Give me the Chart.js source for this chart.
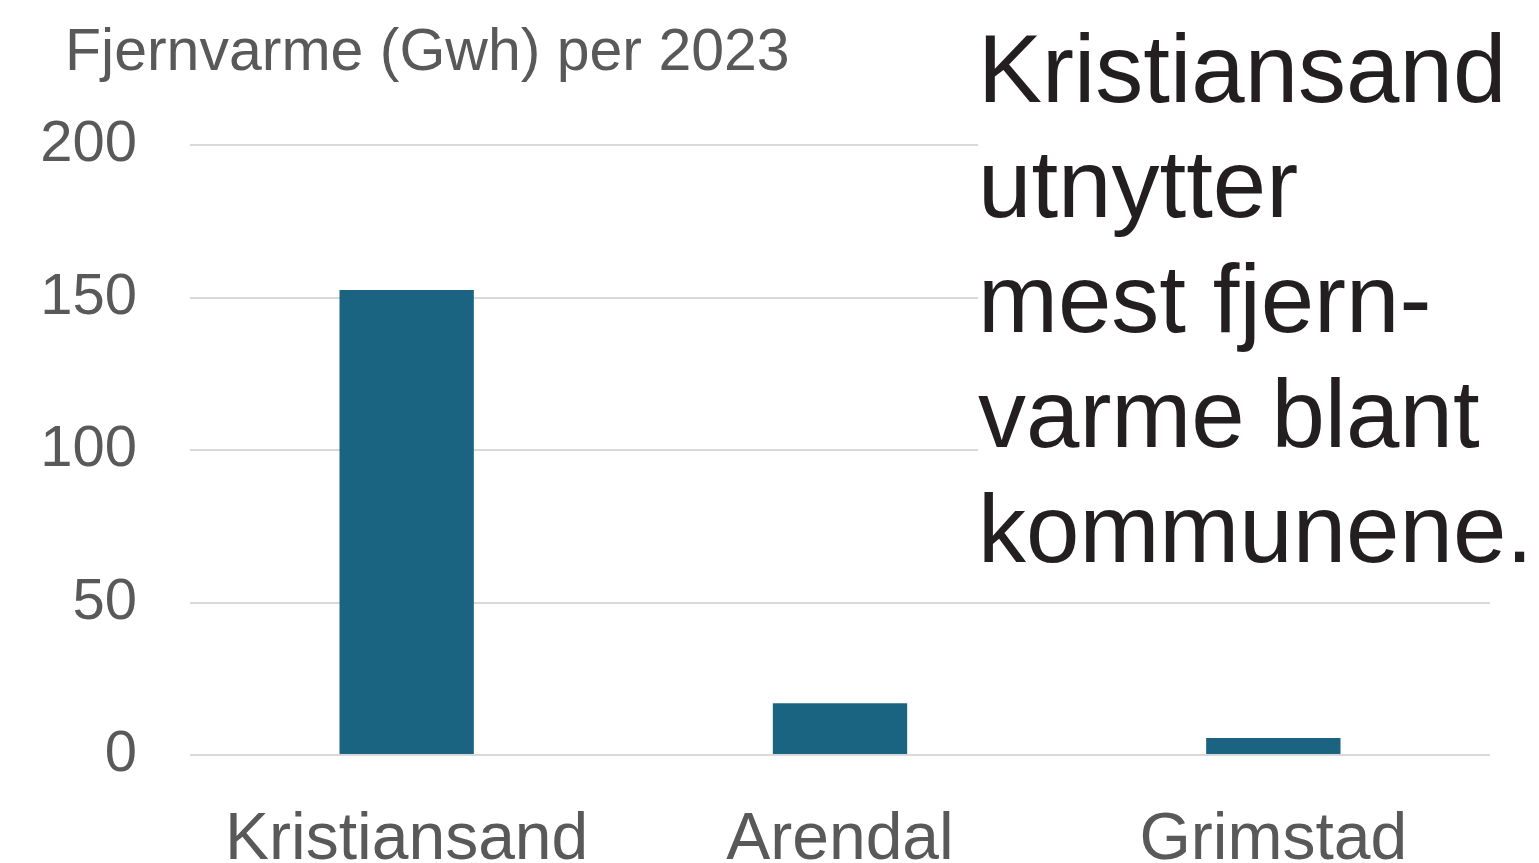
<!DOCTYPE html>
<html>
<head>
<meta charset="utf-8">
<script src="https://cdn.jsdelivr.net/npm/chart.js@4"></script>
<style>
    html, body { margin: 0; padding: 0; background: #fff; }
    #wrap { position: relative; width: 1539px; height: 863px; overflow: hidden; }
    #title {
        position: absolute; left: 65px; top: 16px;
        font-family: "Liberation Sans", Arial, sans-serif;
        font-size: 59px; color: #595959; white-space: nowrap;
    }
    #note {
        position: absolute; left: 978px; top: 0; width: 561px; height: 590px;
        background: #fff; padding-top: 11px; box-sizing: border-box;
        font-family: "Liberation Sans", Arial, sans-serif;
        font-size: 96px; line-height: 115px; color: #231f20; white-space: nowrap;
    }
</style>
</head>
<body>
<div id="wrap">
    <canvas id="heatChart" width="1539" height="863"></canvas>
    <div id="title">Fjernvarme (Gwh) per 2023</div>
    <div id="note">Kristiansand<br>utnytter<br>mest fjern-<br>varme blant<br>kommunene.</div>
</div>
<script>
// Data
const municipalities = ['Kristiansand', 'Arendal', 'Grimstad'];
const districtHeatGwh = [152.5, 17, 5.6];
const yTicks = [0, 50, 100, 150, 200];

const barColor = '#1a6381';
const gridColor = '#d9d9d9';
const tickColor = '#595959';

Chart.defaults.font.family = '"Liberation Sans", Arial, sans-serif';

const ctx = document.getElementById('heatChart');

new Chart(ctx, {
    type: 'bar',
    data: {
        labels: municipalities,
        datasets: [{
            label: 'Fjernvarme (Gwh)',
            data: districtHeatGwh,
            backgroundColor: barColor,
            borderWidth: 0,
            barPercentage: 0.31,
            categoryPercentage: 1
        }]
    },
    options: {
        responsive: false,
        animation: false,
        layout: {
            padding: { top: 145, right: 49, bottom: 0, left: 0 }
        },
        plugins: {
            legend: { display: false },
            tooltip: { enabled: false }
        },
        scales: {
            x: {
                grid: { display: false },
                border: { display: false },
                ticks: {
                    color: tickColor,
                    font: { size: 66 },
                    padding: 38,
                    maxRotation: 0
                },
                afterFit: (scale) => { scale.height = 108; }
            },
            y: {
                min: yTicks[0],
                max: yTicks[yTicks.length - 1],
                afterBuildTicks: (scale) => {
                    scale.ticks = yTicks.map(v => ({ value: v }));
                },
                grid: {
                    color: gridColor,
                    lineWidth: 2,
                    drawTicks: false
                },
                border: { display: false },
                ticks: {
                    color: tickColor,
                    font: { size: 58 },
                    padding: 53
                },
                afterFit: (scale) => { scale.width = 190; }
            }
        }
    }
});
</script>
</body>
</html>
